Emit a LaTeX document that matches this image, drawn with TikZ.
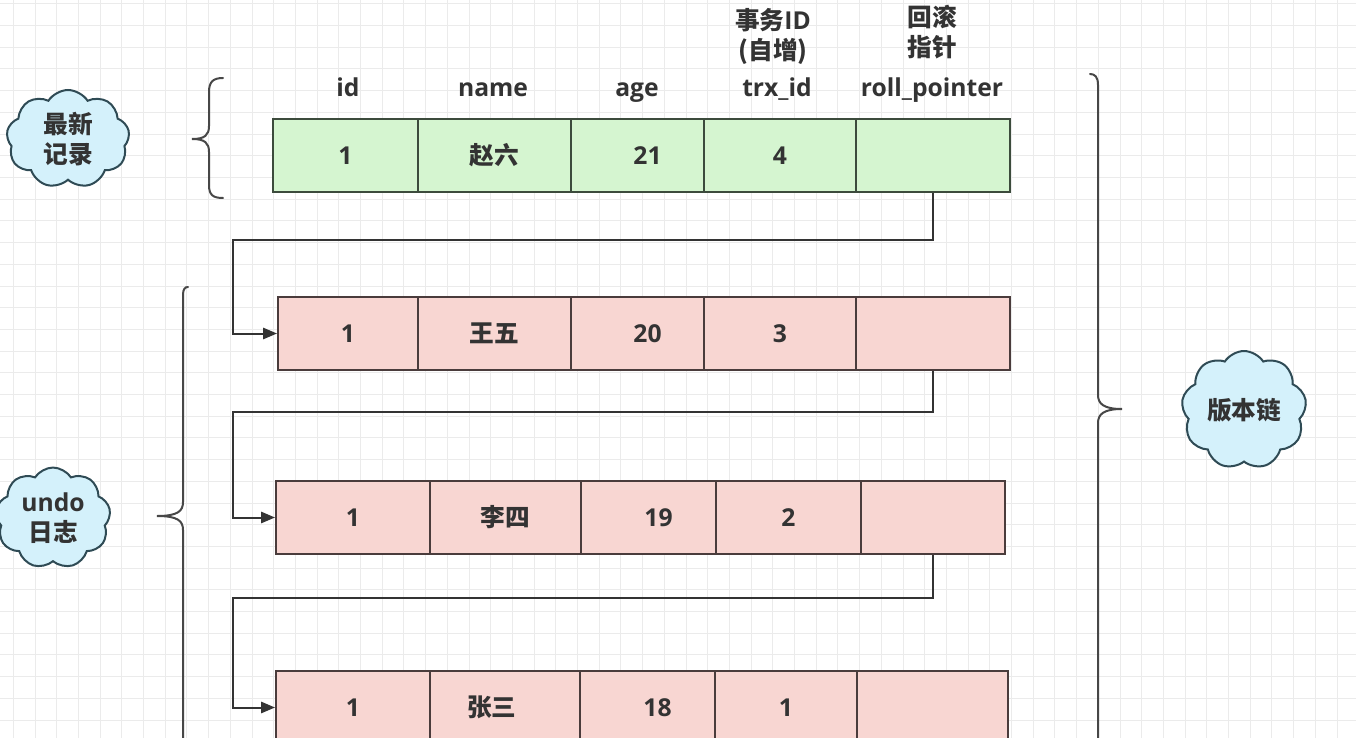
\documentclass[tikz,border=0pt]{standalone}
\usepackage{fontspec}
\setmainfont{Open Sans}
\newfontfamily\cjk{Noto Sans CJK SC}
\usetikzlibrary{shapes.symbols,arrows.meta}
\definecolor{gridc}{HTML}{EBEBEB}
\definecolor{txt}{HTML}{333333}
\definecolor{gfill}{HTML}{D5F5D0}
\definecolor{gline}{HTML}{3C4B3C}
\definecolor{pfill}{HTML}{F8D6D2}
\definecolor{pline}{HTML}{4A3C3C}
\definecolor{cfill}{HTML}{D4F1FB}
\definecolor{cline}{HTML}{2F4B55}
\tikzset{
  gridline/.style={draw=gridc, line width=0.75pt},
  txtstyle/.style={text=txt, font=\fontsize{18.5}{22.5}\selectfont\bfseries, inner sep=0pt, align=center},
  hdr/.style={txtstyle, anchor=base},
  cellbase/.style={txtstyle, draw, line width=1.5pt, minimum height=73*0.75pt, inner sep=0pt, anchor=west},
  gcell/.style={cellbase, fill=gfill, draw=gline},
  pcell/.style={cellbase, fill=pfill, draw=pline},
  cw/.style={minimum width=#1*0.75pt},
  conn/.style={draw=txt, line width=1.5pt, -{Triangle[length=10.5pt,width=8.5pt]}},
  bracestyle/.style={draw=txt!90, line width=1.5pt, line cap=round},
  cloudnode/.style={cloud, cloud puffs=9, cloud puff arc=115, draw=cline, fill=cfill, line width=1.5pt,
    txtstyle, inner sep=0pt},
}
\begin{document}
\begin{tikzpicture}[x=0.75pt,y=-0.75pt]
\useasboundingbox (0,0) rectangle (1356,738);
\begin{scope}
\clip (0,0) rectangle (1356,738);
\fill[white] (0,0) rectangle (1356,738);
\foreach \i in {0,...,62} \draw[gridline] ({13.3+\i*21.7},0) -- ++(0,738);
\foreach \j in {0,...,34} \draw[gridline] (0,{3.9+\j*21.7}) -- ++(1356,0);

% headers
\node[hdr] (hid) at (348,97) {id};
\node[hdr] (hname) at (493,97) {name};
\node[hdr] (hage) at (637,97) {age};
\node[hdr] (htrx) at (777,97) {trx\_id};
\node[hdr] (hroll) at (932,97) {roll\_pointer};
\node[txtstyle] (htrxcn) at (773,36) {{\cjk\bfseries 事务}ID\\{\cjk\bfseries (自增)}};
\node[txtstyle] (hrollcn) at (932,32) {{\cjk\bfseries 回滚}\\{\cjk\bfseries 指针}};

% row 1 (latest)
\node[gcell, cw=145] (r1c1) at (272,155.5) {1};
\node[gcell, cw=153] (r1c2) at (417,155.5) {\cjk\bfseries 赵六};
\node[gcell, cw=133] (r1c3) at (570,155.5) {\kern15pt 21};
\node[gcell, cw=152] (r1c4) at (703,155.5) {4};
\node[gcell, cw=154] (r1c5) at (855,155.5) {};

% row 2
\node[pcell, cw=140] (r2c1) at (277,333.5) {1};
\node[pcell, cw=153] (r2c2) at (417,333.5) {\cjk\bfseries 王五};
\node[pcell, cw=133] (r2c3) at (570,333.5) {\kern15pt 20};
\node[pcell, cw=152] (r2c4) at (703,333.5) {3};
\node[pcell, cw=154] (r2c5) at (855,333.5) {};

% row 3
\node[pcell, cw=154] (r3c1) at (275,517.5) {1};
\node[pcell, cw=151] (r3c2) at (429,517.5) {\cjk\bfseries 李四};
\node[pcell, cw=135] (r3c3) at (580,517.5) {\kern15pt 19};
\node[pcell, cw=145] (r3c4) at (715,517.5) {2};
\node[pcell, cw=144] (r3c5) at (860,517.5) {};

% row 4
\node[pcell, cw=154] (r4c1) at (275,707.5) {1};
\node[pcell, cw=150] (r4c2) at (429,707.5) {\kern-20pt{\cjk\bfseries 张三}};
\node[pcell, cw=135] (r4c3) at (579,707.5) {\kern15pt 18};
\node[pcell, cw=142] (r4c4) at (714,707.5) {1};
\node[pcell, cw=151] (r4c5) at (856,707.5) {};

% connectors
\draw[conn] (r1c5.south) -- ++(0,47) -- ++(-700,0) |- (r2c1.west);
\draw[conn] (r2c5.south) -- ++(0,41) -- ++(-700,0) |- (r3c1.west);
\draw[conn] (r3c5.south) -- ++(0,43) -- ++(-700,0) |- (r4c1.west);

% braces
\draw[bracestyle] (223,78) .. controls (213,78) and (209,82) .. (209,92) -- (209,126)
  .. controls (209,135) and (205,139) .. (192,139)
  .. controls (205,139) and (209,143) .. (209,152) -- (209,185)
  .. controls (209,195) and (213,198) .. (223,198);
\draw[bracestyle] (188,287) .. controls (185,287) and (183,289) .. (183,295) -- (183,502)
  .. controls (183,511) and (178,516) .. (157,516)
  .. controls (178,516) and (183,521) .. (183,530) -- (183,760);
\draw[bracestyle] (1090,74) .. controls (1095,74) and (1098,77) .. (1098,85) -- (1098,395)
  .. controls (1098,404) and (1104,409) .. (1122,409)
  .. controls (1104,409) and (1098,414) .. (1098,423) -- (1098,760);

% clouds
\node[cloudnode, minimum width=123*0.75pt, minimum height=98*0.75pt] (cl1) at (68,139) {{\cjk\bfseries 最新}\\{\cjk\bfseries 记录}};
\node[cloudnode, minimum width=115*0.75pt, minimum height=100*0.75pt] (cl2) at (53,518) {undo\\{\cjk\bfseries 日志}};
\node[cloudnode, minimum width=125*0.75pt, minimum height=100*0.75pt] (cl3) at (1244,410) {\cjk\bfseries 版本链};
\end{scope}
\end{tikzpicture}
\end{document}
